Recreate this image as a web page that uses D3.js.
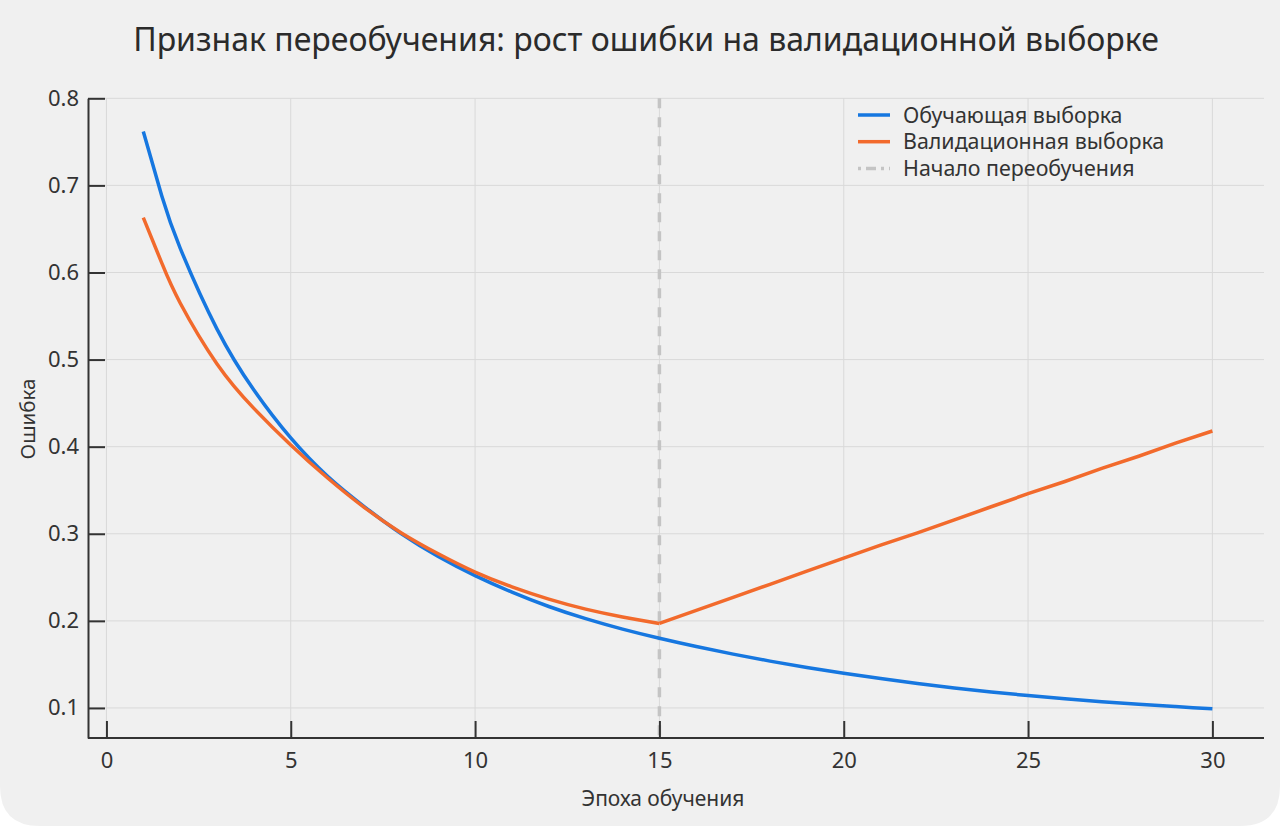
<!DOCTYPE html>
<html>
<head>
<meta charset="utf-8">
<script src="https://cdn.jsdelivr.net/npm/d3@7"></script>
<style>
  html, body { margin: 0; padding: 0; background: #ffffff; }
  svg { display: block; }
  svg text { font-family: "Noto Sans", "Open Sans", sans-serif; }
  .grid line { stroke: #d9d9d9; stroke-width: 1; }
</style>
</head>
<body>
<svg id="chart" width="1280" height="826"></svg>
<script>
// data (an extra reading at 1.5 where the curves bend hard)
var epochs = [1,1.5,2,3,4,5,6,7,8,9,10,11,12,13,14,15,16,17,18,19,20,21,22,23,24,25,26,27,28,29,30];
var trainErr = [0.762,0.688,0.628,0.535,0.465,0.410,0.366,0.331,0.300,0.274,0.252,
                0.233,0.2165,0.2025,0.1905,0.180,0.1705,0.1618,0.1538,0.1465,0.1398,
                0.1337,0.1281,0.1230,0.1184,0.1142,0.1105,0.1072,0.1043,0.1016,0.0990];
var validErr = [0.663,0.611,0.565,0.495,0.444,0.402,0.364,0.330,0.301,0.277,0.256,
                0.239,0.225,0.2135,0.2045,0.197,0.212,0.227,0.242,0.257,0.272,
                0.287,0.301,0.316,0.331,0.346,0.360,0.375,0.389,0.404,0.418];
var overfitEpoch = 15;
var xTicks = [0,5,10,15,20,25,30];
var yTicks = [0.1,0.2,0.3,0.4,0.5,0.6,0.7,0.8];
var legendLabels = ["Обучающая выборка", "Валидационная выборка", "Начало переобучения"];

var blue = "#1677e0", orange = "#f26a2c", dashGray = "#c4c4c4";

var svg = d3.select("#chart");

// card background, rounded at the bottom
svg.append("path")
    .attr("d", "M0,0 H1280 V786 Q1280,826 1240,826 H40 Q0,826 0,786 Z")
    .attr("fill", "#f0f0f0");

var plotLeft = 88, plotRight = 1264, plotTop = 98.3, plotBottom = 738;

var xScale = d3.scaleLinear().domain([-0.5, 31.4]).range([plotLeft, plotRight]);
var yScale = d3.scaleLinear().domain([0.0655, 0.8]).range([plotBottom, plotTop]);

// grid
var grid = svg.append("g").attr("class", "grid");
grid.selectAll(".gy").data(yTicks).enter().append("line")
    .attr("x1", plotLeft).attr("x2", plotRight)
    .attr("y1", function(d) { return yScale(d); })
    .attr("y2", function(d) { return yScale(d); });
grid.selectAll(".gx").data(xTicks).enter().append("line")
    .attr("x1", function(d) { return xScale(d); })
    .attr("x2", function(d) { return xScale(d); })
    .attr("y1", plotTop).attr("y2", plotBottom);

// overfitting marker
svg.append("line")
    .attr("x1", xScale(overfitEpoch)).attr("x2", xScale(overfitEpoch))
    .attr("y1", plotTop).attr("y2", plotBottom)
    .attr("stroke", dashGray)
    .attr("stroke-width", 3.5)
    .attr("stroke-dasharray", "10,9");

// lines
var rows = epochs.map(function(e, i) {
    return {e: e, t: trainErr[i], v: validErr[i]};
});

var lineTrain = d3.line()
    .x(function(d) { return xScale(d.e); })
    .y(function(d) { return yScale(d.t); })
    .curve(d3.curveNatural);

var lineValid = d3.line()
    .x(function(d) { return xScale(d.e); })
    .y(function(d) { return yScale(d.v); })
    .curve(d3.curveNatural);

svg.append("path")
    .datum(rows)
    .attr("d", lineTrain)
    .attr("fill", "none")
    .attr("stroke", blue)
    .attr("stroke-width", 3.5);

// validation curve: smooth down to the minimum, straight after it
svg.append("path")
    .datum(rows.filter(function(d) { return d.e <= overfitEpoch; }))
    .attr("d", lineValid)
    .attr("fill", "none")
    .attr("stroke", orange)
    .attr("stroke-width", 3.5);
svg.append("path")
    .datum(rows.filter(function(d) { return d.e >= overfitEpoch; }))
    .attr("d", lineValid.curve(d3.curveLinear))
    .attr("fill", "none")
    .attr("stroke", orange)
    .attr("stroke-width", 3.5);

// axes
var xAxis = d3.axisBottom(xScale)
    .tickValues(xTicks)
    .tickFormat(d3.format("d"))
    .tickSizeInner(-17)
    .tickSizeOuter(0)
    .tickPadding(14);
var yAxis = d3.axisLeft(yScale)
    .tickValues(yTicks)
    .tickFormat(d3.format(".1f"))
    .tickSizeInner(-17)
    .tickSizeOuter(0)
    .tickPadding(9);

var gx = svg.append("g")
    .attr("transform", "translate(0," + plotBottom + ")")
    .call(xAxis);
var gy = svg.append("g")
    .attr("transform", "translate(" + plotLeft + ",0)")
    .call(yAxis);

[gx, gy].forEach(function(g) {
    g.attr("font-family", null).attr("font-size", null);
    g.select(".domain").attr("stroke", "#333333").attr("stroke-width", 2);
    g.selectAll(".tick line").attr("stroke", "#333333").attr("stroke-width", 2);
    g.selectAll("text").attr("fill", "#333333").attr("font-size", 22);
});
gx.select(".domain").attr("d", "M" + plotLeft + ",0H" + plotRight);

// labels
svg.append("text")
    .text("Признак переобучения: рост ошибки на валидационной выборке")
    .attr("x", 646)
    .attr("y", 51)
    .attr("text-anchor", "middle")
    .attr("font-size", 32)
    .attr("fill", "#2b2b2b");

svg.append("text")
    .text("Эпоха обучения")
    .attr("x", 663)
    .attr("y", 806)
    .attr("text-anchor", "middle")
    .attr("font-size", 21)
    .attr("fill", "#333333");

svg.append("text")
    .text("Ошибка")
    .attr("transform", "translate(35,419) rotate(-90)")
    .attr("text-anchor", "middle")
    .attr("font-size", 20.5)
    .attr("fill", "#333333");

// legend
var legendColors = [blue, orange, dashGray];
var legendDash = [null, null, "3,5,10,5"];
var legend = svg.append("g").attr("transform", "translate(858,115)");
var item = legend.selectAll("g").data(legendLabels).enter().append("g")
    .attr("transform", function(d, i) { return "translate(0," + (i * 26.7) + ")"; });
item.append("line")
    .attr("x1", 0).attr("x2", 32)
    .attr("stroke", function(d, i) { return legendColors[i]; })
    .attr("stroke-width", 3.5)
    .attr("stroke-dasharray", function(d, i) { return legendDash[i]; });
item.append("text")
    .text(function(d) { return d; })
    .attr("x", 45)
    .attr("dy", "0.35em")
    .attr("font-size", 21.4)
    .attr("fill", "#333333");
</script>
</body>
</html>
